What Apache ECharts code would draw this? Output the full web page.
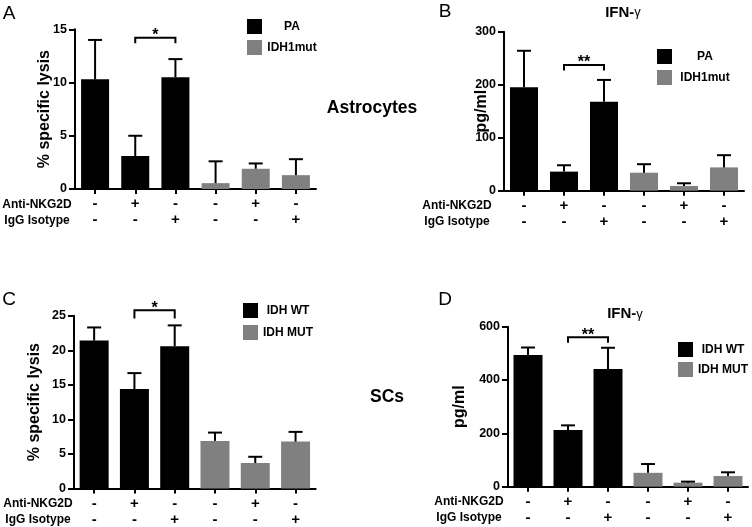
<!DOCTYPE html>
<html><head><meta charset="utf-8">
<script src="https://cdn.jsdelivr.net/npm/echarts@6/dist/echarts.min.js"></script>
<style>html,body{margin:0;padding:0;background:#fff}#c{width:752px;height:527px}</style>
</head><body><div id="c"></div>
<script>
// ---------- data ----------
const categories = ['c1','c2','c3','c4','c5','c6'];
const antiNKG2D  = ['-','+','-','-','+','-'];
const iggIsotype = ['-','-','+','-','-','+'];
const groupOf    = [0,0,0,1,1,1];

const legendAB = ['PA','IDH1mut'];
const legendCD = ['IDH WT','IDH MUT'];

const lysisA    = [10.3, 3.1, 10.5, 0.55, 1.9, 1.3];
const lysisAErr = [3.7, 1.9, 1.7, 2.05, 0.5, 1.5];
const ifnB      = [195, 36, 168, 34, 9, 44];
const ifnBErr   = [69, 12, 41, 16, 5, 23];
const lysisC    = [21.4, 14.4, 20.6, 6.9, 3.7, 6.8];
const lysisCErr = [1.9, 2.3, 3.0, 1.2, 0.9, 1.4];
const ifnD      = [494, 213, 441, 52, 15, 40];
const ifnDErr   = [28, 17, 80, 33, 4, 14];

const ticksA = [0, 5, 10, 15];
const ticksB = [0, 100, 200, 300];
const ticksC = [0, 5, 10, 15, 20, 25];
const ticksD = [0, 200, 400, 600];

// significance: [fromCat, toCat, bracketY, endY]
const sigA = [1, 2, 14.2, 13.7]; const sigALabel = '*';
const sigB = [1, 2, 237, 227];   const sigBLabel = '**';
const sigC = [1, 2, 25.8, 24.6]; const sigCLabel = '*';
const sigD = [1, 2, 560, 540];   const sigDLabel = '**';

// ---------- styling ----------
const FF = '"Liberation Sans", Arial, Helvetica, sans-serif';
const BLACK = '#000000', GREY = '#808080';
const colors = [BLACK, GREY];

const panels = [
  {grid:{left:75, top:29.3, width:241, height:159.7}, ticks:ticksA, vals:lysisA, errs:lysisAErr, names:legendAB, yname:'% specific lysis', nameGap:22, barW:28, sig:sigA, sigL:sigALabel,
   legend:{left:247, top:19, itemGap:6, tw:50}},
  {grid:{left:504, top:31.7, width:240, height:159}, ticks:ticksB, vals:ifnB, errs:ifnBErr, names:legendAB, yname:'pg/ml', nameGap:14, barW:28, sig:sigB, sigL:sigBLabel,
   legend:{left:657, top:49, itemGap:6, tw:56}},
  {grid:{left:74, top:315.7, width:241.7, height:172.9}, ticks:ticksC, vals:lysisC, errs:lysisCErr, names:legendCD, yname:'% specific lysis', nameGap:31, barW:29, sig:sigC, sigL:sigCLabel,
   legend:{left:243, top:303, itemGap:7, tw:50}},
  {grid:{left:508, top:326.7, width:240, height:160}, ticks:ticksD, vals:ifnD, errs:ifnDErr, names:legendCD, yname:'pg/ml', nameGap:40, barW:29, sig:sigD, sigL:sigDLabel,
   legend:{left:678, top:342, itemGap:5, tw:50}}
];

const grids = [], xAxes = [], yAxes = [], series = [], legends = [];
panels.forEach((p, k) => {
  grids.push(Object.assign({containLabel:false, outerBoundsMode:'none'}, p.grid));
  xAxes.push({
    type:'category', gridIndex:k, data:categories,
    axisLine:{show:true, lineStyle:{color:BLACK, width:2}},
    axisTick:{show:true, alignWithLabel:true, length:5, lineStyle:{color:BLACK, width:2}},
    axisLabel:{show:true, interval:0, margin:7, color:BLACK, fontFamily:FF, fontWeight:'bold', fontSize:15, lineHeight:16,
      formatter:(v, i) => antiNKG2D[i] + '\n' + iggIsotype[i]},
    splitLine:{show:false}
  });
  yAxes.push({
    type:'value', gridIndex:k, min:p.ticks[0], max:p.ticks[p.ticks.length-1], interval:p.ticks[1]-p.ticks[0],
    name:p.yname, nameLocation:'middle', nameGap:p.nameGap, nameMoveOverlap:false,
    nameTextStyle:{color:BLACK, fontFamily:FF, fontWeight:'bold', fontSize:16},
    axisLine:{show:true, lineStyle:{color:BLACK, width:2}},
    axisTick:{show:true, length:6, lineStyle:{color:BLACK, width:2}},
    axisLabel:{show:true, margin:8, color:BLACK, fontFamily:FF, fontWeight:'bold', fontSize:12.5},
    splitLine:{show:false}
  });
  [0,1].forEach(g => {
    series.push({
      type:'bar', name:p.names[g], xAxisIndex:k, yAxisIndex:k, barWidth:p.barW, barGap:'-100%',
      itemStyle:{color:colors[g]}, silent:true,
      data:p.vals.map((v,i) => groupOf[i] === g ? v : '-')
    });
  });
  series.push({
    type:'custom', xAxisIndex:k, yAxisIndex:k, z:3, silent:true,
    data:p.vals.map((m,i) => [i, m, m + p.errs[i]]),
    encode:{x:0, y:[1,2]},
    renderItem:(params, api) => {
      const i = api.value(0);
      const b = api.coord([i, api.value(1)]);
      const t = api.coord([i, api.value(2)]);
      const hw = 7;
      return {type:'group', children:[
        {type:'line', shape:{x1:b[0], y1:b[1], x2:t[0], y2:t[1]}, style:{stroke:BLACK, lineWidth:2}},
        {type:'line', shape:{x1:t[0]-hw, y1:t[1], x2:t[0]+hw, y2:t[1]}, style:{stroke:BLACK, lineWidth:2}}
      ]};
    }
  });
  const lbl = p.sigL;
  series.push({
    type:'custom', xAxisIndex:k, yAxisIndex:k, z:3, silent:true, clip:false,
    data:[p.sig], encode:{x:[0,1], y:[2,3]},
    renderItem:(params, api) => {
      const a  = api.coord([api.value(0), api.value(2)]);
      const b  = api.coord([api.value(1), api.value(2)]);
      const a2 = api.coord([api.value(0), api.value(3)]);
      const b2 = api.coord([api.value(1), api.value(3)]);
      return {type:'group', children:[
        {type:'polyline', shape:{points:[a2, a, b, b2]}, style:{stroke:BLACK, lineWidth:2, fill:null}},
        {type:'text', style:{text:lbl, x:(a[0]+b[0])/2, y:a[1]-2, align:'center', verticalAlign:'middle',
          font:'bold 16px ' + FF, fill:BLACK}}
      ]};
    }
  });
  legends.push({
    orient:'vertical', left:p.legend.left, top:p.legend.top, padding:0, itemGap:p.legend.itemGap,
    itemWidth:15, itemHeight:15, icon:'rect', selectedMode:false, data:p.names,
    formatter:n => '{t|' + n + '}',
    textStyle:{rich:{t:{width:p.legend.tw, align:'center', fontFamily:FF, fontWeight:'bold', fontSize:12, color:BLACK}}}
  });
});

function txt(x, y, text, size, weight, align) {
  return {type:'text', x:x, y:y, silent:true,
    style:{text:text, fill:BLACK, font:(weight||'normal') + ' ' + size + 'px ' + FF, align:align||'center', verticalAlign:'middle'}};
}
function ifn(x, y) {
  return {type:'text', x:x, y:y, silent:true,
    style:{text:'{b|IFN-}{g|γ}', align:'center', verticalAlign:'middle',
      rich:{b:{font:'bold 15px ' + FF, fill:BLACK}, g:{font:'normal 13px ' + FF, fill:BLACK}}}};
}
const rowY = [[205,221],[205.7,221.7],[503.6,519.6],[501.7,517.7]];
const rowX = [37, 457, 38, 469];
const graphics = [
  txt(9, 13.5, 'A', 19), txt(445, 11.5, 'B', 19), txt(9, 300, 'C', 19), txt(445, 299.5, 'D', 19),
  txt(372, 108, 'Astrocytes', 17.5, 'bold'), txt(387, 397, 'SCs', 17.5, 'bold'),
  ifn(623, 12.5), ifn(625, 314)
];
rowX.forEach((x, k) => {
  graphics.push(txt(x, rowY[k][0], 'Anti-NKG2D', 12, 'bold'));
  graphics.push(txt(x, rowY[k][1], 'IgG Isotype', 12, 'bold'));
});

const chart = echarts.init(document.getElementById('c'), null, {renderer:'canvas'});
chart.setOption({
  animation:false, backgroundColor:'#ffffff',
  textStyle:{fontFamily:FF},
  grid:grids, xAxis:xAxes, yAxis:yAxes, series:series, legend:legends,
  graphic:graphics
});
</script></body></html>
